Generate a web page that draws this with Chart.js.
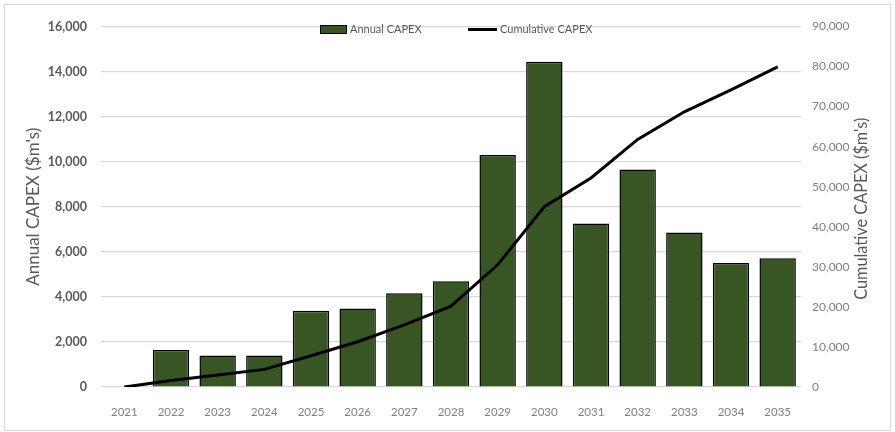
<!DOCTYPE html>
<html lang="en">
<head>
    <meta charset="UTF-8">
    <title>Annual and Cumulative CAPEX</title>
    <script src="https://cdn.jsdelivr.net/npm/chart.js@4.4.0/dist/chart.umd.min.js"></script>
    <style>
        body {
            margin: 0;
            background: #fff;
            font-family: 'Lato', sans-serif;
        }
        .frame {
            position: absolute;
            left: 4px;
            top: 4px;
            width: 885px;
            height: 425px;
            border: 1px solid #d9d9d9;
        }
        .legend {
            position: absolute;
            top: 16px;
            left: 0;
            width: 100%;
            height: 16px;
            font-size: 11px;
            color: #595959;
        }
        .legend span { position: absolute; top: 0; line-height: 16px; }
        .swatch-bar {
            position: absolute;
            width: 25px;
            height: 7px;
            background: #375623;
            border: 1px solid #000;
            top: 4px;
        }
        .swatch-line {
            position: absolute;
            width: 29px;
            height: 3px;
            background: #000;
            top: 7px;
        }
    </style>
</head>
<body>
    <div class="frame">
        <canvas id="capexChart" width="885" height="425"></canvas>
        <div class="legend">
            <div class="swatch-bar" style="left:315px"></div>
            <span style="left:345px">Annual CAPEX</span>
            <div class="swatch-line" style="left:463px"></div>
            <span style="left:495px">Cumulative CAPEX</span>
        </div>
    </div>

    <script>
        // years on the x axis
        const years = ['2021', '2022', '2023', '2024', '2025', '2026', '2027', '2028',
                       '2029', '2030', '2031', '2032', '2033', '2034', '2035'];

        // annual spend, $m
        const annualCapex = [0, 1640, 1400, 1400, 3380, 3480, 4160, 4690,
                             10300, 14430, 7260, 9650, 6860, 5500, 5710];

        // running total, $m
        const cumulativeCapex = [0, 1600, 3000, 4400, 7800, 11300, 15500, 20200,
                                 30500, 45000, 52200, 61800, 68700, 74200, 79900];

        const tickGrey = '#595959';
        const lightGrey = '#808080';
        const rightTitle = "Cumulative CAPEX ($m's)";

        const fmt = v => v.toLocaleString('en-US');

        // Chart.js turns right-hand titles the other way, so draw this one ourselves
        const rightTitlePlugin = {
            id: 'rightTitle',
            afterDraw(chart) {
                const { ctx, chartArea } = chart;
                ctx.save();
                ctx.translate(857, (chartArea.top + chartArea.bottom) / 2 + 2);
                ctx.rotate(-Math.PI / 2);
                ctx.fillStyle = tickGrey;
                ctx.font = "16.3px 'Lato'";
                ctx.textAlign = 'center';
                ctx.textBaseline = 'middle';
                ctx.fillText(rightTitle, 0, 0);
                ctx.restore();
            }
        };

        const ctx = document.getElementById('capexChart').getContext('2d');
        new Chart(ctx, {
            type: 'bar',
            data: {
                labels: years,
                datasets: [
                    {
                        type: 'line',
                        label: 'Cumulative CAPEX',
                        data: cumulativeCapex,
                        yAxisID: 'y1',
                        borderColor: '#000',
                        borderWidth: 3,
                        pointRadius: 0,
                        tension: 0,
                        order: 0
                    },
                    {
                        label: 'Annual CAPEX',
                        data: annualCapex,
                        yAxisID: 'y',
                        backgroundColor: '#375623',
                        borderColor: '#000',
                        borderWidth: 1.5,
                        barPercentage: 0.78,
                        categoryPercentage: 1,
                        order: 1
                    }
                ]
            },
            options: {
                responsive: false,
                animation: false,
                layout: { padding: { top: 20, left: 0, right: 0, bottom: 0 } },
                plugins: {
                    legend: { display: false },
                    tooltip: { enabled: false }
                },
                scales: {
                    x: {
                        grid: { display: false },
                        border: { display: false },
                        ticks: {
                            color: lightGrey,
                            font: { family: 'Lato', size: 11.5 },
                            padding: 10,
                            maxRotation: 0
                        },
                        afterFit: s => { s.height = 43; }
                    },
                    y: {
                        position: 'left',
                        min: 0,
                        max: 16000,
                        grid: { color: '#d9d9d9', lineWidth: 1.2, drawTicks: false },
                        border: { display: false },
                        ticks: {
                            stepSize: 2000,
                            color: tickGrey,
                            font: { family: 'Lato', size: 12.5, weight: 'bold' },
                            padding: 14,
                            callback: v => fmt(v)
                        },
                        title: {
                            display: true,
                            text: "Annual CAPEX ($m's)",
                            color: tickGrey,
                            font: { family: 'Lato', size: 17 },
                            padding: { top: 18, bottom: 0 }
                        },
                        afterFit: s => { s.width = 96; }
                    },
                    y1: {
                        position: 'right',
                        min: 0,
                        max: 90000,
                        grid: { display: false, drawTicks: false },
                        border: { display: false },
                        ticks: {
                            stepSize: 10000,
                            color: lightGrey,
                            font: { family: 'Lato', size: 12 },
                            padding: 11,
                            callback: v => fmt(v)
                        },
                        afterFit: s => { s.width = 89; }
                    }
                }
            },
            plugins: [rightTitlePlugin]
        });
    </script>
</body>
</html>
